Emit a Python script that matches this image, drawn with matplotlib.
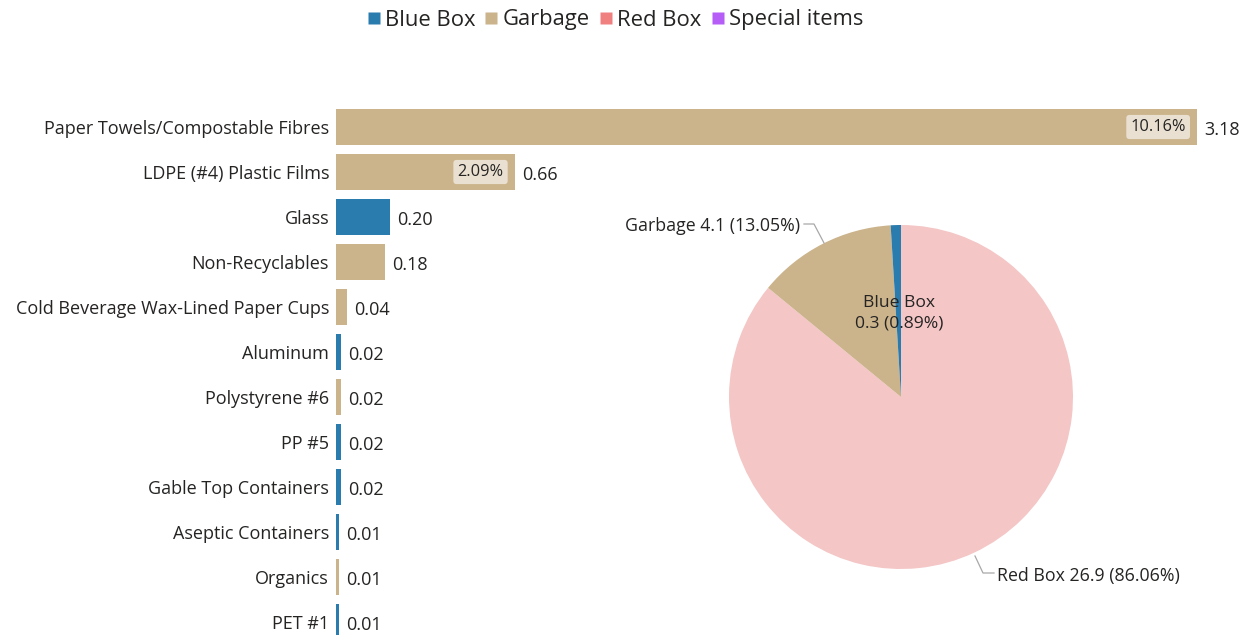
import matplotlib
matplotlib.use("Agg")
import matplotlib.pyplot as plt
from matplotlib.lines import Line2D

plt.rcParams['font.family'] = ['Open Sans', 'DejaVu Sans']

# ---- data ----
categories = ["Paper Towels/Compostable Fibres", "LDPE (#4) Plastic Films", "Glass",
              "Non-Recyclables", "Cold Beverage Wax-Lined Paper Cups", "Aluminum",
              "Polystyrene #6", "PP #5", "Gable Top Containers", "Aseptic Containers",
              "Organics", "PET #1"]
values = [3.18, 0.66, 0.20, 0.18, 0.04, 0.02, 0.02, 0.02, 0.02, 0.01, 0.01, 0.01]
groups = ["Garbage", "Garbage", "Blue Box", "Garbage", "Garbage", "Blue Box",
          "Garbage", "Blue Box", "Blue Box", "Blue Box", "Garbage", "Blue Box"]
pct_labels = ["10.16%", "2.09%", "", "", "", "", "", "", "", "", "", ""]

pie_labels = ["Red Box", "Garbage", "Blue Box"]
pie_values = [26.9, 4.1, 0.3]
pie_pcts = [86.06, 13.05, 0.89]

legend_names = ["Blue Box", "Garbage", "Red Box", "Special items"]
legend_colors = ["#2A7BAE", "#CBB38B", "#F08080", "#B65CF7"]
group_color = dict(zip(legend_names, legend_colors))
pie_colors = {"Red Box": "#F4C6C6", "Garbage": "#CBB38B", "Blue Box": "#2A7BAE"}

W, H = 1252, 635
fig = plt.figure(figsize=(W / 100, H / 100), dpi=100)
txt = "#252423"

# ---- bar chart ----
top_px, step = 104.5, 45.0
n = len(categories)
bottom_px = top_px + step * n
ax = fig.add_axes([336 / W, (H - bottom_px) / H, (1197 - 336) / W, (bottom_px - top_px) / H])
ypos = list(range(n))
ax.barh(ypos, values, height=0.8, color=[group_color[g] for g in groups])
ax.set_xlim(0, 3.18)
ax.set_ylim(n - 0.5, -0.5)
ax.set_yticks(ypos)
ax.set_yticklabels(categories, fontsize=13, color=txt)
ax.tick_params(axis="y", length=0, pad=5)
ax.set_xticks([])
for s in ax.spines.values():
    s.set_visible(False)
for y, v, p in zip(ypos, values, pct_labels):
    ax.annotate(f"{v:.2f}", (v, y), xytext=(5, -2), textcoords="offset points",
                va="center", ha="left", fontsize=13, color=txt, annotation_clip=False)
    if p:
        ax.annotate(p, (v, y), xytext=(-8, 0), textcoords="offset points",
                    va="center", ha="right", fontsize=11.8, color=txt,
                    bbox=dict(boxstyle="round,pad=0.25,rounding_size=0.2",
                              fc="#E9E0D1", ec="none"))

# ---- pie chart ----
cx, cy, r = 901, 397, 172
pax = fig.add_axes([(cx - r) / W, (H - cy - r) / H, 2 * r / W, 2 * r / H])
pax.pie(pie_values, colors=[pie_colors[l] for l in pie_labels], startangle=90,
        counterclock=False, radius=1, wedgeprops=dict(linewidth=0))
pax.set_xlim(-1, 1)
pax.set_ylim(-1, 1)
pax.set_aspect("equal")
pax.axis("off")

def pc(px, py):
    return ((px - cx) / r, (cy - py) / r)

lc = "#A8A8A8"
# Garbage label
gx, gy = zip(pc(824, 243), pc(814, 224), pc(804, 224))
pax.plot(gx, gy, color=lc, lw=0.9, clip_on=False)
tx, ty = pc(800, 226)
pax.text(tx, ty, f"{pie_labels[1]} {pie_values[1]} ({pie_pcts[1]:.2f}%)", ha="right",
         va="center", fontsize=12.8, color=txt, clip_on=False)
# Red box label
rx, ry = zip(pc(975, 556), pc(983, 573), pc(994, 573))
pax.plot(rx, ry, color=lc, lw=0.9, clip_on=False)
tx, ty = pc(997, 576)
pax.text(tx, ty, f"{pie_labels[0]} {pie_values[0]} ({pie_pcts[0]:.2f}%)", ha="left",
         va="center", fontsize=12.8, color=txt, clip_on=False)
# Blue box label
tx, ty = pc(899, 313)
pax.text(tx, ty, f"{pie_labels[2]}\n{pie_values[2]} ({pie_pcts[2]:.2f}%)", ha="center",
         va="center", fontsize=12.6, color=txt, linespacing=1.35)

# ---- legend ----
handles = [Line2D([], [], marker="s", linestyle="none", markersize=9,
                  markerfacecolor=c, markeredgecolor="none") for c in legend_colors]
fig.legend(handles, legend_names, loc="center", bbox_to_anchor=(615 / W, 1 - 20 / H),
           ncol=4, frameon=False, fontsize=15.8, handlelength=0.6, handletextpad=0.2,
           columnspacing=0.45, labelcolor=txt)

fig.savefig("out.png", dpi=100)
